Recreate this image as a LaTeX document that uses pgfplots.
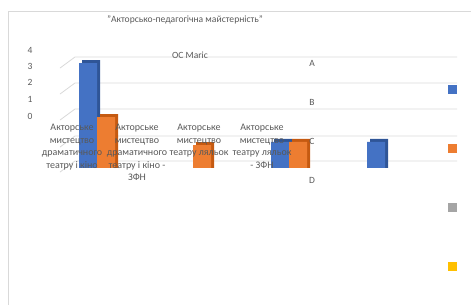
\documentclass[border=0pt]{standalone}
\usepackage{fontspec}
\setmainfont{Carlito}
\usepackage{pgfplots}
\pgfplotsset{compat=1.18}
\definecolor{cblue}{HTML}{4472C4}
\definecolor{cblued}{HTML}{2F5597}
\definecolor{corange}{HTML}{ED7D31}
\definecolor{coranged}{HTML}{C55A11}
\definecolor{cgray}{HTML}{A5A5A5}
\definecolor{cyellow}{HTML}{FFC000}
\definecolor{ctext}{HTML}{595959}
\definecolor{cgrid}{HTML}{D9D9D9}
\begin{document}
\begin{tikzpicture}
\path[use as bounding box] (0,0) rectangle (471pt,305pt);
\draw[cgrid, line width=1pt] (8.5pt,-2pt) -- (8.5pt,293pt) -- (473pt,293pt);
\node[ctext, font=\fontsize{9.6}{11}\selectfont] at (185pt,285pt) {"Акторсько-педагогічна майстерність"};
\begin{axis}[
  at={(60pt,137pt)}, anchor=south west,
  scale only axis, width=400pt, height=120pt,
  xmin=0.6146, xmax=4.78125, ymin=0, ymax=7.2727,
  clip=false,
  axis line style={draw=none},
  major tick length=0pt,
  xtick=\empty,
  ytick={3.15,4.18,5.21,6.18,7.15},
  yticklabels={0,1,2,3,4},
  yticklabel style={xshift=-24pt, text=ctext, font=\fontsize{9.5}{11}\selectfont},
  /pgf/number format/assume math mode=true,
  ybar, bar width=18pt,
  legend style={at={(0.97,0.69)}, anchor=north west, draw=none, fill=none,
    row sep=50pt, inner sep=0pt},
  legend image code/.code={\fill[#1] (0pt,-4.5pt) rectangle (9pt,4.5pt);},
]
% gridlines
\foreach \g in {6.727,5.152,3.576,1.939,0.424}{
  \edef\tmp{\noexpand\draw[cgrid, line width=0.8pt] (axis cs:0.6146,\g-0.67) -- (axis cs:0.7708,\g) -- (axis cs:4.75,\g);}
  \tmp
}
% 3D side/top faces
\addplot[fill=cblued, draw=none, bar shift=-6pt, forget plot] coordinates {(1,6.54) (3,1.76) (4,1.76)};
\addplot[fill=coranged, draw=none, bar shift=12pt, forget plot] coordinates {(1,3.27) (2,1.57) (3,1.76)};
% front faces
\addplot[fill=cblue, draw=none, bar shift=-9pt] coordinates {(1,6.36) (3,1.58) (4,1.58)};
\addlegendentry{}
\addplot[fill=corange, draw=none, bar shift=9pt] coordinates {(1,3.09) (2,1.39) (3,1.58)};
\addlegendentry{}
\addlegendimage{fill=cgray, draw=none}
\addlegendentry{}
\addlegendimage{fill=cyellow, draw=none}
\addlegendentry{}
% texts
\begin{scope}[every node/.style={text=ctext, font=\fontsize{10}{12.5}\selectfont, align=center, anchor=north}]
\node at (axis cs:0.74,2.85) {Акторське\\мистецтво\\драматичного\\театру і кіно};
\node at (axis cs:1.4167,2.85) {Акторське\\мистецтво\\драматичного\\театру і кіно -\\ЗФН};
\node at (axis cs:2.0625,2.85) {Акторське\\мистецтво\\театру ляльок};
\node at (axis cs:2.71875,2.85) {Акторське\\мистецтво\\театру ляльок\\- ЗФН};
\end{scope}
\begin{scope}[every node/.style={text=ctext, font=\fontsize{9.5}{11}\selectfont}]
\node at (axis cs:1.96875,6.85) {OC Maric};
\node at (axis cs:3.2396,6.36) {A};
\node at (axis cs:3.2396,4.0) {B};
\node at (axis cs:3.2396,1.636) {C};
\node at (axis cs:3.2396,-0.727) {D};
\end{scope}
\end{axis}
\end{tikzpicture}
\end{document}
